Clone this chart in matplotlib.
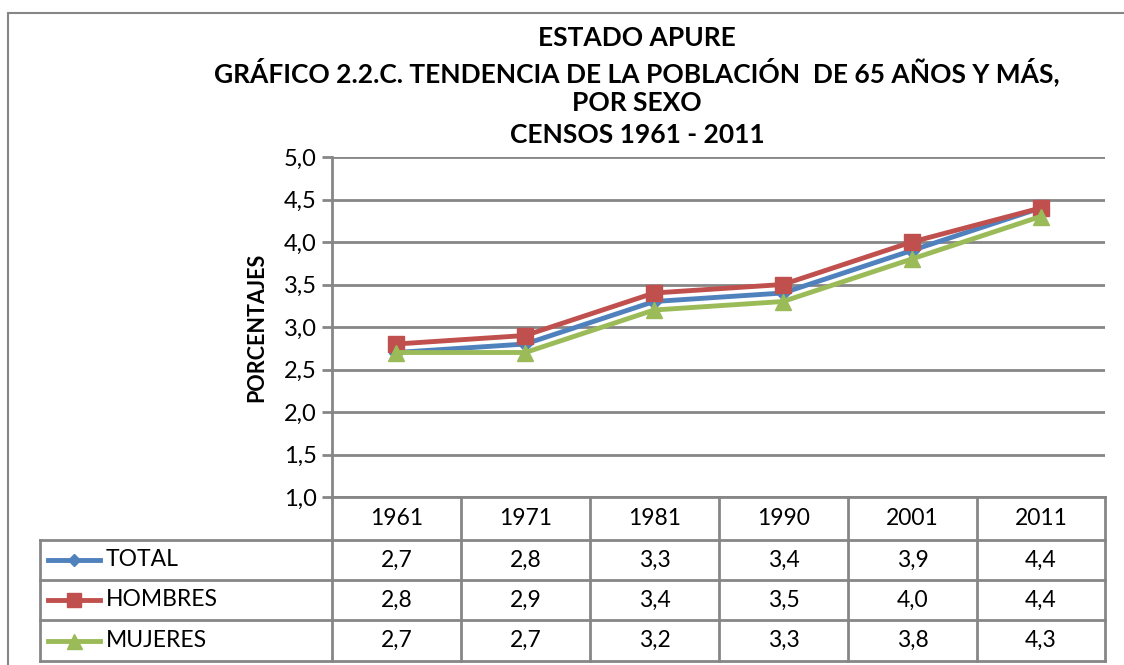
import matplotlib.pyplot as plt
from matplotlib.lines import Line2D
from matplotlib.patches import Rectangle

plt.rcParams['font.family'] = ['Lato', 'DejaVu Sans']

# Data
years = ["1961", "1971", "1981", "1990", "2001", "2011"]
total = [2.7, 2.8, 3.3, 3.4, 3.9, 4.4]
hombres = [2.8, 2.9, 3.4, 3.5, 4.0, 4.4]
mujeres = [2.7, 2.7, 3.2, 3.3, 3.8, 4.3]
series_names = ["TOTAL", "HOMBRES", "MUJERES"]

W, H = 1124, 665
fig = plt.figure(figsize=(W / 100, H / 100), dpi=100)


def fx(x):
    return x / W


def fy(y):
    return 1 - y / H


grid_col = "#868686"
colors = ["#4F81BD", "#C0504D", "#9BBB59"]
markers = ["D", "s", "^"]
msizes = [7, 11, 12]

# outer chart border
fig.add_artist(Rectangle((fx(8), fy(700)), fx(1140 - 8), fy(13) - fy(700),
                         transform=fig.transFigure, fill=False,
                         edgecolor=grid_col, lw=1.5))

# plot area
x0, x1, ytop, ybot = 332, 1105, 157, 497
ax = fig.add_axes([fx(x0), fy(ybot), fx(x1 - x0), fy(ytop) - fy(ybot)])

xs = list(range(len(years)))
for vals, c, m, ms in zip([total, hombres, mujeres], colors, markers, msizes):
    ax.plot(xs, vals, color=c, lw=3.5, marker=m, markersize=ms,
            markeredgecolor=c, zorder=3)

ax.set_xlim(-0.5, len(years) - 0.5)
ax.set_ylim(1.0, 5.0)
ax.set_yticks([1.0, 1.5, 2.0, 2.5, 3.0, 3.5, 4.0, 4.5, 5.0])
ax.set_yticklabels([f"{v:.1f}".replace(".", ",") for v in ax.get_yticks()],
                   fontsize=17)
ax.set_xticks([])
ax.grid(axis="y", color=grid_col, lw=2)
ax.set_axisbelow(True)
for s in ["top", "right", "bottom"]:
    ax.spines[s].set_visible(False)
ax.spines["left"].set_color(grid_col)
ax.spines["left"].set_linewidth(2)
ax.tick_params(axis="y", length=7, width=2, color=grid_col, pad=4)

ax.set_ylabel("PORCENTAJES", fontsize=15.5, fontweight="bold", labelpad=12)

# title
titles = ["ESTADO APURE",
          "GRÁFICO 2.2.C. TENDENCIA DE LA POBLACIÓN  DE 65 AÑOS Y MÁS,",
          "POR SEXO",
          "CENSOS 1961 - 2011"]
for t, y in zip(titles, [38, 72, 103, 135]):
    fig.text(fx(637), fy(y), t, ha="center", va="center",
             fontsize=19, fontweight="bold")

# data table
col_edges = [332, 461, 590, 719, 848, 977, 1105]
row_edges = [497, 540, 580, 620, 661]
left = 40


def hline(y, xa, xb):
    fig.add_artist(Line2D([fx(xa), fx(xb)], [fy(y), fy(y)],
                          transform=fig.transFigure, color=grid_col, lw=2))


def vline(x, ya, yb):
    fig.add_artist(Line2D([fx(x), fx(x)], [fy(ya), fy(yb)],
                          transform=fig.transFigure, color=grid_col, lw=2))


hline(row_edges[0], col_edges[0], col_edges[-1])
for y in row_edges[1:]:
    hline(y, left, col_edges[-1])
for x in col_edges:
    vline(x, row_edges[0], row_edges[-1])
vline(left, row_edges[1], row_edges[-1])

for i, yr in enumerate(years):
    cx = (col_edges[i] + col_edges[i + 1]) / 2
    fig.text(fx(cx), fy((row_edges[0] + row_edges[1]) / 2), yr,
             ha="center", va="center", fontsize=16.5)

for r, (name, vals, c, m, ms) in enumerate(
        zip(series_names, [total, hombres, mujeres], colors, markers, msizes)):
    cy = (row_edges[r + 1] + row_edges[r + 2]) / 2
    fig.add_artist(Line2D([fx(48), fx(100)], [fy(cy), fy(cy)],
                          transform=fig.transFigure, color=c, lw=3.5))
    fig.add_artist(Line2D([fx(74)], [fy(cy)], transform=fig.transFigure,
                          color=c, marker=m, markersize=ms * 0.9,
                          markeredgecolor=c, lw=0))
    fig.text(fx(106), fy(cy), name, ha="left", va="center", fontsize=16.5)
    for i, v in enumerate(vals):
        cx = (col_edges[i] + col_edges[i + 1]) / 2
        fig.text(fx(cx), fy(cy), f"{v:.1f}".replace(".", ","),
                 ha="center", va="center", fontsize=16.5)

fig.savefig("out.png", dpi=100)
